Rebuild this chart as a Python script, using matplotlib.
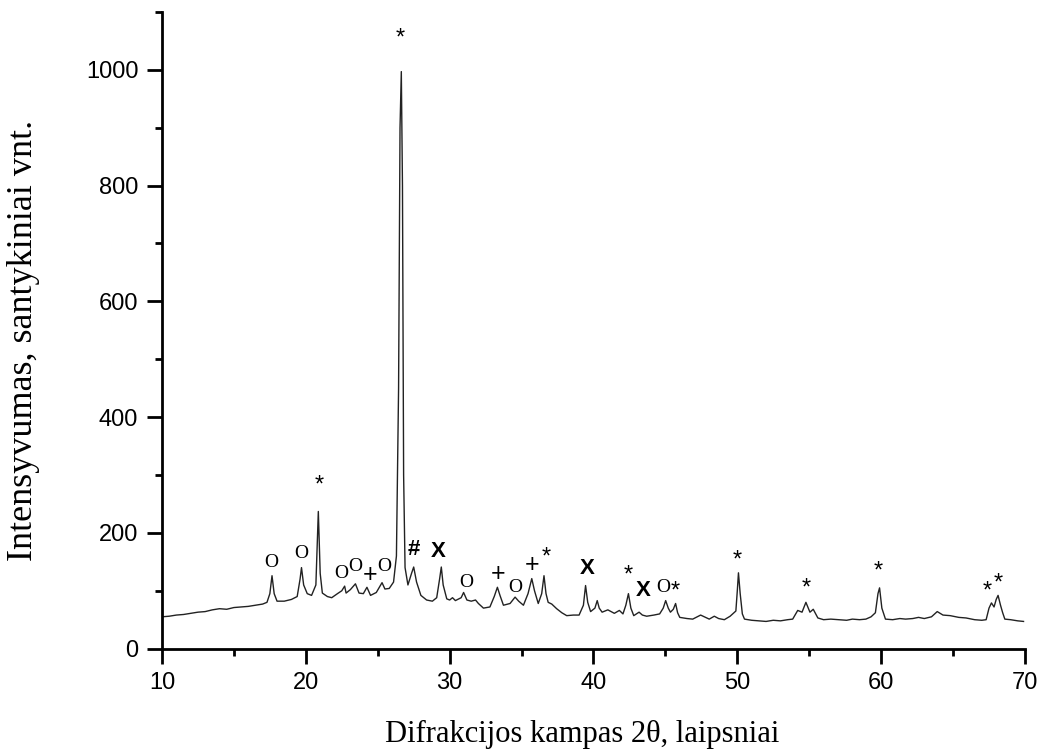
import matplotlib

matplotlib.use("Agg")
import matplotlib.pyplot as plt
from matplotlib.ticker import MultipleLocator

# --------------------------------------------------------------------------- #
# Difraktograma (perskaityta nuo paveikslo)
# --------------------------------------------------------------------------- #
kampas = [
    10.0, 10.5, 11.0, 11.5, 12.0, 12.5, 13.0, 13.5, 14.0, 14.5, 15.0, 15.5,
    16.0, 16.5, 17.0, 17.3, 17.5, 17.65, 17.8, 18.0, 18.5, 19.0, 19.4, 19.6,
    19.7, 19.85, 20.1, 20.4, 20.7, 20.87, 21.0, 21.15, 21.5, 21.8, 22.2, 22.5,
    22.7, 22.8, 23.1, 23.45, 23.7, 24.0, 24.25, 24.5, 24.9, 25.2, 25.3, 25.5,
    25.8, 26.1, 26.3, 26.45, 26.55, 26.64, 26.72, 26.8, 26.9, 27.1, 27.35,
    27.5, 27.7, 28.0, 28.4, 28.8, 29.1, 29.3, 29.42, 29.55, 29.8, 30.0, 30.2,
    30.4, 30.8, 30.97, 31.2, 31.5, 31.8, 32.0, 32.35, 32.8, 33.1, 33.32, 33.5,
    33.74, 34.2, 34.55, 34.8, 35.13, 35.45, 35.71, 35.9, 36.16, 36.4, 36.56,
    36.7, 36.85, 37.1, 37.44, 37.8, 38.14, 38.6, 39.0, 39.3, 39.45, 39.6,
    39.8, 40.1, 40.26, 40.4, 40.6, 41.0, 41.45, 41.8, 42.05, 42.25, 42.43,
    42.6, 42.8, 43.17, 43.4, 43.7, 44.2, 44.6, 44.85, 45.02, 45.2, 45.35,
    45.55, 45.71, 45.85, 46.0, 46.5, 46.9, 47.45, 47.7, 48.05, 48.4, 48.7,
    49.1, 49.5, 49.9, 50.0, 50.08, 50.2, 50.35, 50.5, 51.0, 51.5, 52.0, 52.5,
    53.0, 53.5, 53.85, 54.2, 54.5, 54.77, 55.05, 55.28, 55.6, 56.0, 56.5,
    57.1, 57.6, 58.0, 58.5, 58.94, 59.3, 59.6, 59.78, 59.89, 60.05, 60.3,
    60.8, 61.3, 61.7, 62.2, 62.6, 63.0, 63.5, 63.9, 64.3, 64.8, 65.4, 65.9,
    66.5, 67.0, 67.3, 67.5, 67.67, 67.85, 68.0, 68.13, 68.3, 68.45, 68.6,
    69.0, 69.5, 69.9,
]
intensyvumas = [
    55, 56, 58, 59, 61, 63, 64, 67, 69, 68, 71, 72,
    73, 75, 77, 80, 95, 126, 95, 82, 82, 85, 90, 120,
    140, 110, 95, 92, 110, 237, 130, 96, 90, 88, 95, 100,
    108, 96, 102, 112, 96, 95, 106, 92, 97, 110, 114, 103,
    104, 115, 160, 450, 900, 997, 800, 300, 140, 110, 130,
    141, 115, 92, 84, 82, 88, 120, 141, 110, 86, 84, 88,
    83, 88, 97, 84, 82, 84, 78, 70, 72, 90, 106, 92,
    75, 78, 89, 82, 75, 95, 121, 100, 78, 95, 126,
    95, 80, 77, 69, 62, 57, 58, 58, 75, 109, 80,
    64, 70, 83, 70, 63, 67, 61, 66, 60, 75, 95,
    70, 57, 63, 58, 56, 58, 60, 70, 83, 70, 63,
    68, 78, 62, 54, 52, 51, 58, 55, 51, 56, 52,
    50, 56, 65, 100, 131, 95, 60, 51, 49, 48, 47, 49,
    48, 50, 51, 66, 63, 80, 63, 68, 53, 50, 51,
    50, 49, 51, 50, 51, 55, 62, 95, 105, 70, 51,
    50, 52, 51, 52, 54, 52, 55, 64, 58, 57, 54, 53,
    50, 49, 50, 70, 79, 72, 85, 92, 75, 62, 51,
    50, 48, 47,
]

# Fazių žymės virš smailių
zymes = ["O", "O", "*", "O", "O", "+", "O", "*", "#", "X",
         "O", "+", "O", "+", "*", "X", "*", "X", "O", "*",
         "*", "*", "*", "*", "*"]
zymiu_x = [17.63, 19.71, 20.91, 22.46, 23.45, 24.45, 25.42, 26.53, 27.5, 29.23,
           31.13, 33.4, 34.55, 35.71, 36.7, 39.56, 42.4, 43.45, 44.83, 45.71,
           49.98, 54.77, 59.79, 67.38, 68.14]
zymiu_y = [148, 164, 281, 129, 142, 128, 142, 1054, 172, 168,
           115, 129, 105, 144, 158, 139, 126, 101, 105, 98,
           152, 103, 133, 98, 112]

# --------------------------------------------------------------------------- #
fig = plt.figure(figsize=(10.41, 7.49), dpi=100)
ax = fig.add_axes([0.1556, 0.134, 0.8290, 0.850])

ax.plot(kampas, intensyvumas, color="#222222", lw=1.0)

for z, x, y in zip(zymes, zymiu_x, zymiu_y):
    if z == "O":
        ax.text(x, y, "O", ha="center", va="center", fontsize=14,
                family="Liberation Serif")
    elif z in ("#", "X"):
        ax.text(x, y, z, ha="center", va="center", fontsize=16,
                family="Liberation Sans", fontweight="bold")
    elif z == "+":
        ax.text(x, y, z, ha="center", va="center", fontsize=18,
                family="Liberation Sans")
    else:
        ax.text(x, y, z, ha="center", va="center", fontsize=17,
                family="Liberation Sans")

ax.set_xlim(10, 70)
ax.set_ylim(0, 1100)
ax.xaxis.set_major_locator(MultipleLocator(10))
ax.xaxis.set_minor_locator(MultipleLocator(5))
ax.yaxis.set_major_locator(MultipleLocator(200))
ax.yaxis.set_minor_locator(MultipleLocator(100))

for s in ["top", "right"]:
    ax.spines[s].set_visible(False)
for s in ["left", "bottom"]:
    ax.spines[s].set_linewidth(2)

ax.tick_params(which="major", direction="out", length=11, width=2,
               labelsize=17, pad=6)
ax.tick_params(which="minor", direction="out", length=5, width=2)
for lbl in ax.get_xticklabels() + ax.get_yticklabels():
    lbl.set_family("Liberation Sans")

# ašių pavadinimai (Times stiliaus)
fig.text(0.559, 0.009, "Difrakcijos kampas 2θ, laipsniai",
         family="Liberation Serif", fontsize=22, ha="center", va="baseline")
fig.text(0.023, 0.546, "Intensyvumas, santykiniai vnt.",
         family="Liberation Serif", fontsize=26, rotation=90,
         ha="center", va="center")

fig.savefig("out.png", dpi=100)
